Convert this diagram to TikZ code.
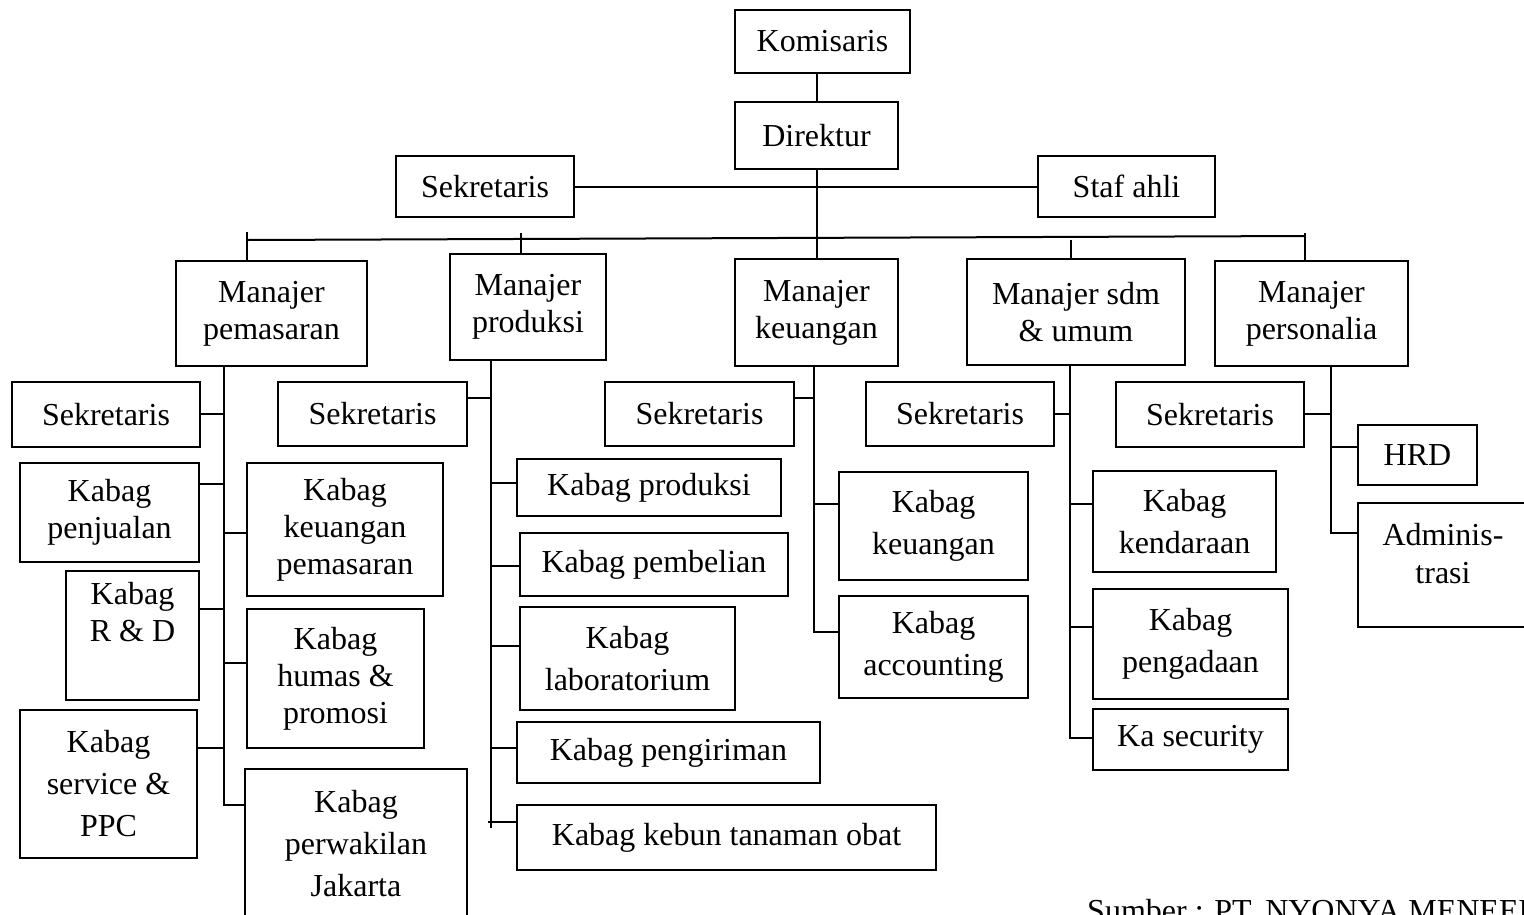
\documentclass[tikz,border=0pt]{standalone}
\usepackage{fontspec}
\setmainfont{Liberation Serif}
\tikzset{
  orgnode/.style={draw, line width=1.8pt, inner sep=0pt, align=center, font=\fontsize{32}{37}\selectfont},
  orgwide/.style={orgnode, font=\fontsize{32}{42}\selectfont},
  plaintext/.style={inner sep=0pt, align=center, font=\fontsize{32}{38}\selectfont},
  link/.style={line width=2pt},
}
\newcommand\orgbox[7]{\node[#1, minimum width={#5-#3}, minimum height={#6-#4}] (#2) at ({(#3+#5)/2},{(#4+#6)/2}) {#7};}
\begin{document}
\begin{tikzpicture}[x=1pt,y=-1pt]
\useasboundingbox (0,0) rectangle (1524,914);
\clip (0,0) rectangle (1524,914);
% top
\orgbox{orgnode}{kom}{735}{10}{910}{73}{Komisaris}
\orgbox{orgnode}{dir}{735}{102}{898}{169}{Direktur}
\orgbox{orgnode}{sek0}{396}{156}{574}{217}{Sekretaris}
\orgbox{orgnode}{staf}{1038}{156}{1215}{217}{Staf ahli}
% managers
\orgbox{orgnode}{mp}{176}{261}{367}{366}{Manajer\\pemasaran}
\orgbox{orgnode}{mpr}{450}{254}{606}{360}{Manajer\\produksi}
\orgbox{orgnode}{mk}{735}{259}{898}{366}{Manajer\\keuangan}
\orgbox{orgnode}{ms}{967}{259}{1185}{365}{Manajer sdm\\\& umum}
\orgbox{orgnode}{mpe}{1215}{261}{1408}{366}{Manajer\\personalia}
% column 1
\orgbox{orgnode}{s1}{12}{382}{200}{447}{Sekretaris}
\orgbox{orgnode}{pen}{20}{463}{199}{562}{Kabag\\penjualan}
\orgbox{orgnode}{kpm}{247}{463}{443}{596}{Kabag\\keuangan\\pemasaran}
\orgbox{orgnode}{rd}{66}{571}{199}{700}{Kabag\\R \& D\\ \strut}
\orgbox{orgnode}{hum}{247}{609}{424}{748}{Kabag\\humas \&\\promosi}
\orgbox{orgwide}{svc}{20}{710}{197}{858}{Kabag\\service \&\\PPC}
\orgbox{orgwide}{perw}{245}{769}{467}{918}{Kabag\\perwakilan\\Jakarta}
% column 2
\orgbox{orgnode}{s2}{278}{382}{467}{446}{Sekretaris}
\orgbox{orgnode}{kp}{517}{459}{781}{516}{Kabag produksi}
\orgbox{orgnode}{kb}{520}{533}{788}{596}{Kabag pembelian}
\orgbox{orgwide}{kl}{520}{607}{735}{710}{Kabag\\laboratorium}
\orgbox{orgnode}{kg}{517}{722}{820}{783}{Kabag pengiriman}
\orgbox{orgnode}{kt}{517}{805}{936}{870}{Kabag kebun tanaman obat}
% column 3
\orgbox{orgnode}{s3}{605}{382}{794}{446}{Sekretaris}
\orgbox{orgwide}{kk}{839}{472}{1028}{580}{Kabag\\keuangan}
\orgbox{orgwide}{ka}{839}{596}{1028}{698}{Kabag\\accounting}
% column 4
\orgbox{orgnode}{s4}{866}{382}{1054}{446}{Sekretaris}
\orgbox{orgwide}{kd}{1093}{471}{1276}{572}{Kabag\\kendaraan}
\orgbox{orgwide}{kgd}{1093}{589}{1288}{699}{Kabag\\pengadaan}
\orgbox{orgnode}{ks}{1093}{709}{1288}{770}{Ka security}
% column 5
\orgbox{orgnode}{s5}{1116}{382}{1304}{447}{Sekretaris}
\orgbox{orgnode}{hrd}{1358}{425}{1477}{485}{HRD}
\orgbox{orgnode}{adm}{1358}{503}{1530}{627}{}
\node[plaintext] (admtext) at (1443,554) {Adminis-\\trasi};
% source
\node[inner sep=0pt, anchor=base west, font=\fontsize{32}{37}\selectfont] (src) at (1087,921) {Sumber : PT. NYONYA MENEER};
% connectors top
\draw[link] (dir.north |- kom.south) -- (dir.north);
\draw[link] (sek0.east) -- (staf.west);
\draw[link] (dir.south) -- (mk.north);
\draw[link] (247,240) -- (1305,236);
\draw[link] (247,232) -- (mp.north -| 247,0);
\draw[link] (521,233) -- (mpr.north -| 521,0);
\draw[link] (1071,240) -- (ms.north -| 1071,0);
\draw[link] (1305,233) -- (mpe.north -| 1305,0);
% column 1
\coordinate (t1) at (224,366);
\draw[link] (t1) -- (t1 |- 0,805) -- (perw.west |- 0,805);
\draw[link] (s1.east |- 0,414) -- (t1 |- 0,414);
\draw[link] (pen.east |- 0,484) -- (t1 |- 0,484);
\draw[link] (kpm.west |- 0,533) -- (t1 |- 0,533);
\draw[link] (rd.east |- 0,609) -- (t1 |- 0,609);
\draw[link] (hum.west |- 0,663) -- (t1 |- 0,663);
\draw[link] (svc.east |- 0,748) -- (t1 |- 0,748);
% column 2
\coordinate (t2) at (491,360);
\draw[link] (t2) -- (t2 |- 0,828);
\draw[link] (s2.east |- 0,398) -- (t2 |- 0,398);
\draw[link] (kp.west |- 0,483) -- (t2 |- 0,483);
\draw[link] (kb.west |- 0,566) -- (t2 |- 0,566);
\draw[link] (kl.west |- 0,646) -- (t2 |- 0,646);
\draw[link] (kg.west |- 0,748) -- (t2 |- 0,748);
\draw[link] (kt.west |- 0,822) -- (488,822);
% column 3
\coordinate (t3) at (814,366);
\draw[link] (t3) -- (t3 |- 0,632) -- (ka.west |- 0,632);
\draw[link] (s3.east |- 0,398) -- (t3 |- 0,398);
\draw[link] (kk.west |- 0,504) -- (t3 |- 0,504);
% column 4
\coordinate (t4) at (1070,365);
\draw[link] (t4) -- (t4 |- 0,738) -- (ks.west |- 0,738);
\draw[link] (s4.east |- 0,414) -- (t4 |- 0,414);
\draw[link] (kd.west |- 0,504) -- (t4 |- 0,504);
\draw[link] (kgd.west |- 0,627) -- (t4 |- 0,627);
% column 5
\coordinate (t5) at (1331,366);
\draw[link] (t5) -- (t5 |- 0,533) -- (adm.west |- 0,533);
\draw[link] (s5.east |- 0,414) -- (t5 |- 0,414);
\draw[link] (hrd.west |- 0,447) -- (t5 |- 0,447);
\end{tikzpicture}
\end{document}
